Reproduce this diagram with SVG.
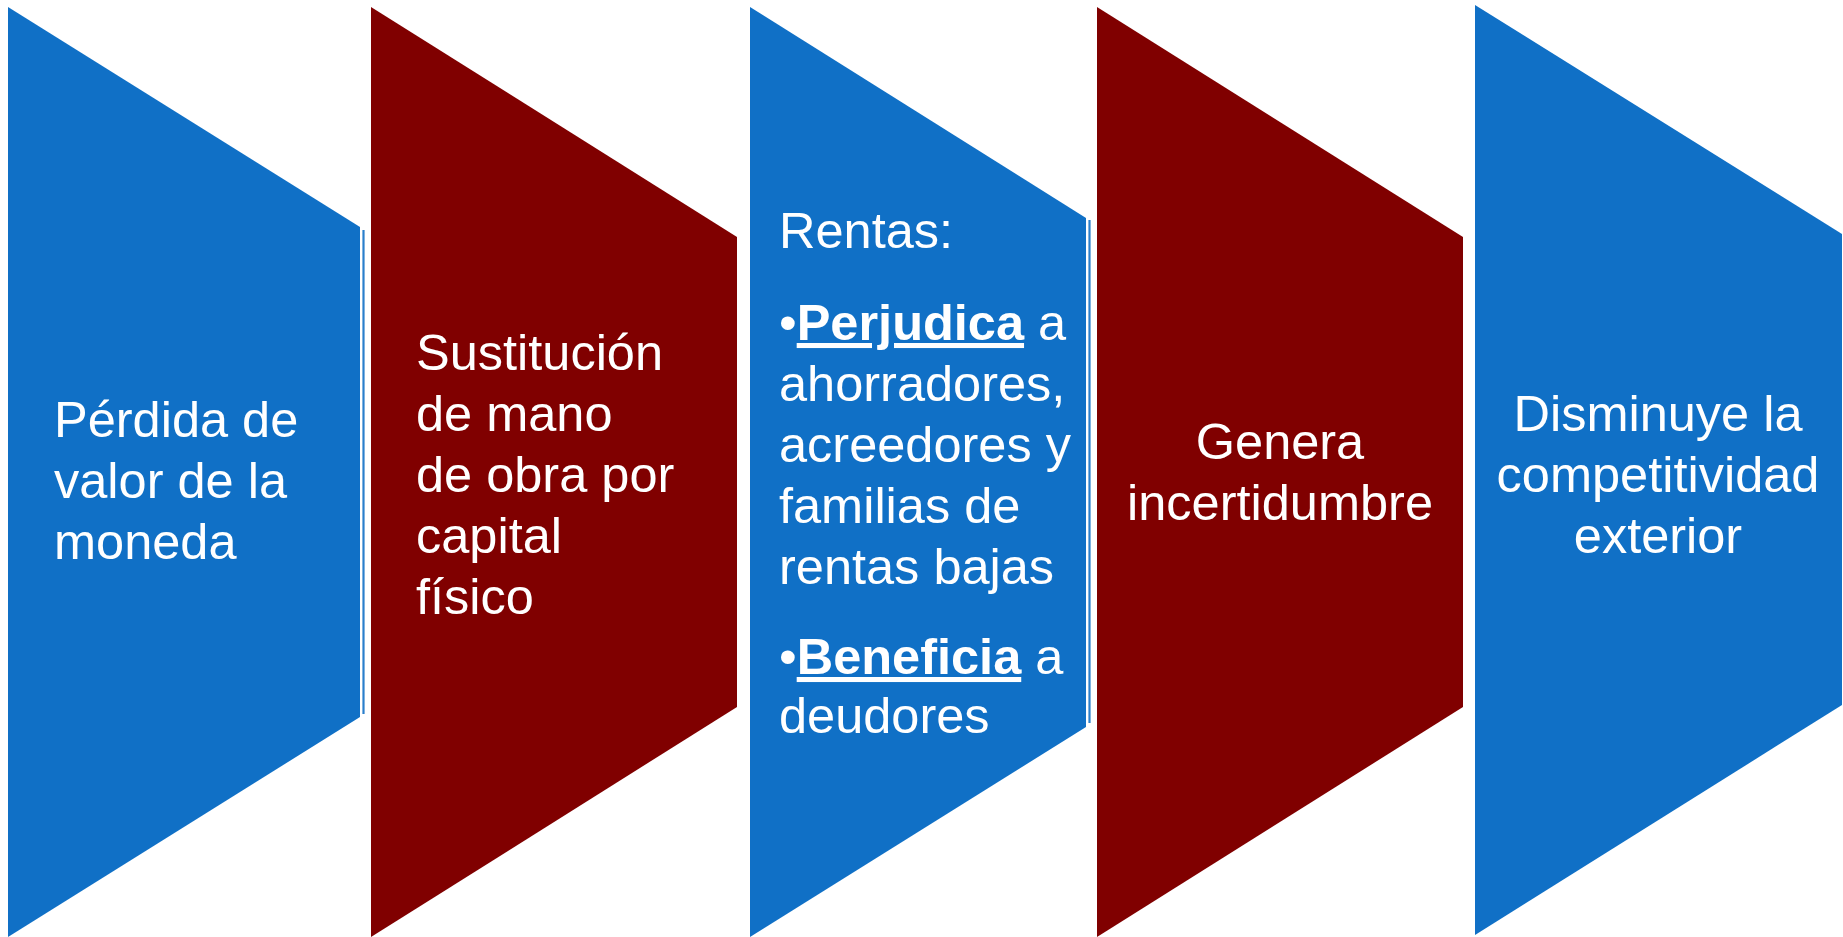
<svg xmlns="http://www.w3.org/2000/svg" width="1843" height="937" viewBox="0 0 1843 937">
<style>
.blue{fill:#1070C6;}
.red{fill:#800000;}
.edge{stroke:#2A7FCC;stroke-width:2.2;fill:none;}
text{font-family:"Liberation Sans",Arial,sans-serif;font-size:50.5px;fill:#FFFFFF;}
.c{text-anchor:middle;}
.b{font-weight:bold;text-decoration:underline;}
</style>
<rect width="1843" height="937" fill="#FFFFFF"/>
<g id="node1">
<polygon class="blue" points="8,7 360,227 360,717 8,937"/>
<line class="edge" x1="363.5" y1="230" x2="363.5" y2="714"/>
<text x="54" y="437">Pérdida de</text>
<text x="54" y="498">valor de la</text>
<text x="54" y="559">moneda</text>
</g>
<g id="node2">
<polygon class="red" points="371,7 737,237 737,707 371,937"/>
<text x="416" y="370">Sustitución</text>
<text x="416" y="431">de mano</text>
<text x="416" y="492">de obra por</text>
<text x="416" y="553">capital</text>
<text x="416" y="614">físico</text>
</g>
<g id="node3">
<polygon class="blue" points="750,7 1086,218 1086,727 750,937"/>
<line class="edge" x1="1089.5" y1="220" x2="1089.5" y2="723"/>
<text x="779" y="248">Rentas:</text>
<text x="779" y="340">•<tspan class="b">Perjudica</tspan> a</text>
<text x="779" y="401">ahorradores,</text>
<text x="779" y="462">acreedores y</text>
<text x="779" y="523">familias de</text>
<text x="779" y="584">rentas bajas</text>
<text x="779" y="674">•<tspan class="b">Beneficia</tspan> a</text>
<text x="779" y="733">deudores</text>
</g>
<g id="node4">
<polygon class="red" points="1097,7 1463,237 1463,707 1097,937"/>
<text class="c" x="1280" y="459">Genera</text>
<text class="c" x="1280" y="520">incertidumbre</text>
</g>
<g id="node5">
<polygon class="blue" points="1475,5 1842,234 1842,705 1475,935"/>
<text class="c" x="1658" y="431">Disminuye la</text>
<text class="c" x="1658" y="492">competitividad</text>
<text class="c" x="1658" y="553">exterior</text>
</g>
<g id="connectors"></g>
</svg>
